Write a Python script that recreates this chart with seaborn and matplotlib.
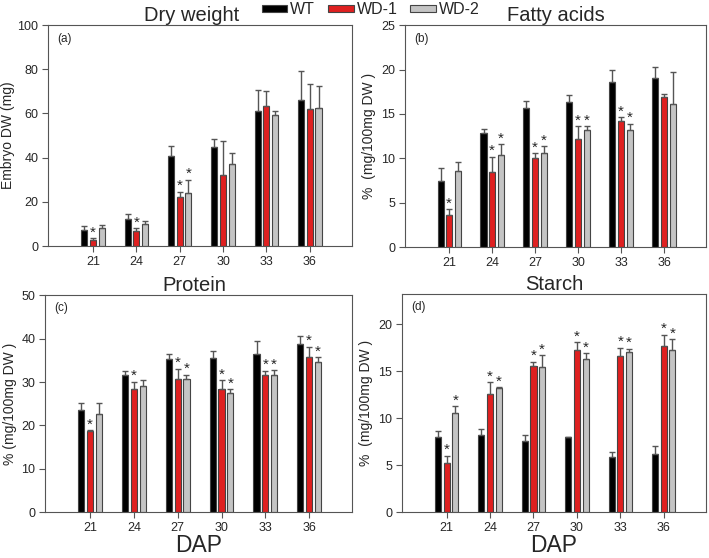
import pandas as pd
import matplotlib.pyplot as plt
import seaborn as sns

dap = ['21', '24', '27', '30', '33', '36']
lines = ['WT', 'WD-1', 'WD-2']

# Dry weight (mg)
dw_wt = [7.1, 12.4, 40.6, 44.7, 61.2, 66.2]
dw_wt_err = [2.0, 2.1, 4.9, 3.9, 9.6, 13.0]
dw_wd1 = [2.9, 6.6, 22.0, 32.3, 63.2, 62.2]
dw_wd1_err = [0.7, 1.6, 2.6, 15.1, 7.0, 11.1]
dw_wd2 = [8.0, 10.2, 24.1, 37.3, 59.3, 62.7]
dw_wd2_err = [1.5, 1.3, 5.9, 4.9, 2.0, 9.7]

# Fatty acids
fa_wt = [7.4, 12.9, 15.7, 16.4, 18.6, 19.1]
fa_wt_err = [1.5, 0.4, 0.8, 0.7, 1.3, 1.2]
fa_wd1 = [3.65, 8.5, 10.0, 12.2, 14.2, 16.9]
fa_wd1_err = [0.65, 1.7, 0.6, 1.4, 0.4, 0.3]
fa_wd2 = [8.6, 10.4, 10.6, 13.2, 13.2, 16.1]
fa_wd2_err = [1.0, 1.2, 0.8, 0.4, 0.7, 3.6]

# Protein
pr_wt = [23.5, 31.5, 35.4, 35.5, 36.4, 38.7]
pr_wt_err = [1.6, 1.1, 1.0, 1.7, 3.1, 2.0]
pr_wd1 = [18.6, 28.3, 30.7, 28.4, 31.7, 35.7]
pr_wd1_err = [0.3, 1.8, 2.4, 2.0, 0.9, 2.4]
pr_wd2 = [22.7, 29.0, 30.7, 27.4, 31.5, 34.7]
pr_wd2_err = [2.4, 1.5, 1.0, 1.0, 1.2, 1.0]

# Starch
st_wt = [8.0, 8.25, 7.6, 7.95, 5.9, 6.2]
st_wt_err = [0.6, 0.55, 0.6, 0.1, 0.5, 0.8]
st_wd1 = [5.2, 12.6, 15.6, 17.2, 16.6, 17.7]
st_wd1_err = [0.8, 1.2, 0.4, 0.9, 0.9, 1.2]
st_wd2 = [10.6, 13.2, 15.4, 16.3, 17.0, 17.3]
st_wd2_err = [0.7, 0.1, 1.3, 0.6, 0.4, 1.1]

# significance stars (1 = marked with *)
dw_star = [[0] * 6, [1, 1, 1, 0, 0, 0], [0, 0, 1, 0, 0, 0]]
fa_star = [[0] * 6, [1, 1, 1, 1, 1, 0], [0, 1, 1, 1, 1, 0]]
pr_star = [[0] * 6, [1, 1, 1, 1, 1, 1], [0, 0, 1, 1, 1, 1]]
st_star = [[0] * 6, [1] * 6, [1] * 6]

panels = [
    dict(title='Dry weight', tag='(a)', ylabel='Embryo DW (mg)',
         vals=[dw_wt, dw_wd1, dw_wd2], errs=[dw_wt_err, dw_wd1_err, dw_wd2_err],
         stars=dw_star, ylim=(0, 100), yticks=[0, 20, 40, 60, 80, 100],
         pos=[0.068, 0.559, 0.429, 0.396], tx=0.47, lp=1.5),
    dict(title='Fatty acids', tag='(b)', ylabel='%  (mg/100mg DW )',
         vals=[fa_wt, fa_wd1, fa_wd2], errs=[fa_wt_err, fa_wd1_err, fa_wd2_err],
         stars=fa_star, ylim=(0, 25), yticks=[0, 5, 10, 15, 20, 25],
         pos=[0.571, 0.557, 0.425, 0.398], tx=0.5, lp=4),
    dict(title='Protein', tag='(c)', ylabel='% (mg/100mg DW )',
         vals=[pr_wt, pr_wd1, pr_wd2], errs=[pr_wt_err, pr_wd1_err, pr_wd2_err],
         stars=pr_star, ylim=(0, 50), yticks=[0, 10, 20, 30, 40, 50],
         pos=[0.0635, 0.082, 0.433, 0.389], tx=0.485, lp=3),
    dict(title='Starch', tag='(d)', ylabel='%  (mg/100mg DW )',
         vals=[st_wt, st_wd1, st_wd2], errs=[st_wt_err, st_wd1_err, st_wd2_err],
         stars=st_star, ylim=(0, 23.2), yticks=[0, 5, 10, 15, 20],
         pos=[0.567, 0.082, 0.429, 0.391], tx=0.5, lp=4),
]

sns.set_style('white')
plt.rcParams['font.family'] = ['Liberation Sans', 'DejaVu Sans']

palette = {'WT': 'black', 'WD-1': '#ff0000', 'WD-2': '#c4c4c4'}
edge = '#444444'

fig = plt.figure(figsize=(7.09, 5.58), dpi=100)
handles, labels = None, None

for k, p in enumerate(panels):
    ax = fig.add_axes(p['pos'])
    rows = []
    for name, v in zip(lines, p['vals']):
        for d, val in zip(dap, v):
            rows.append({'DAP': d, 'line': name, 'value': val})
    df = pd.DataFrame(rows)
    sns.barplot(data=df, x='DAP', y='value', hue='line', hue_order=lines,
                order=dap, palette=palette, width=0.6, gap=0.3,
                edgecolor=edge, linewidth=0.8, errorbar=None,
                legend=(k == 0), ax=ax)
    if k == 0:
        leg = ax.get_legend()
        handles = leg.legend_handles
        labels = [t.get_text() for t in leg.get_texts()]
        leg.remove()

    bars = list(ax.containers)[:3]
    for j, cont in enumerate(bars):
        for bar, e, s in zip(cont, p['errs'][j], p['stars'][j]):
            x = bar.get_x() + bar.get_width() / 2
            h = bar.get_height()
            ax.errorbar(x, h, yerr=[[0], [e]], fmt='none', ecolor='#555555',
                        elinewidth=1, capsize=2.5, capthick=1)
            if s:
                ax.annotate('*', (x, h + e), xytext=(0, -1),
                            textcoords='offset points', ha='center',
                            va='bottom', fontsize=11)

    ax.set_xlim(-1.03, 5.98)
    ax.set_ylim(*p['ylim'])
    ax.set_yticks(p['yticks'])
    ax.set_title(p['title'], fontsize=14.5, pad=3, x=p['tx'])
    ax.set_ylabel(p['ylabel'], fontsize=10, labelpad=p['lp'])
    if k >= 2:
        ax.set_xlabel('DAP', fontsize=16.5, labelpad=0)
    else:
        ax.set_xlabel('')
    ax.text(0.03, 0.925, p['tag'], transform=ax.transAxes, fontsize=8.5)
    ax.tick_params(axis='both', labelsize=9, direction='out', length=4,
                   width=0.8, pad=3, color='#555555', bottom=True, left=True)
    for sp in ax.spines.values():
        sp.set_visible(True)
        sp.set_color('#555555')
        sp.set_linewidth(0.8)

fig.legend(handles, labels, loc='upper center', bbox_to_anchor=(0.523, 1.022),
           ncol=3, frameon=False, fontsize=11.5, handlelength=1.6,
           handleheight=0.35, handletextpad=0.2, columnspacing=0.8)

fig.savefig('out.png', dpi=100)
plt.close(fig)
